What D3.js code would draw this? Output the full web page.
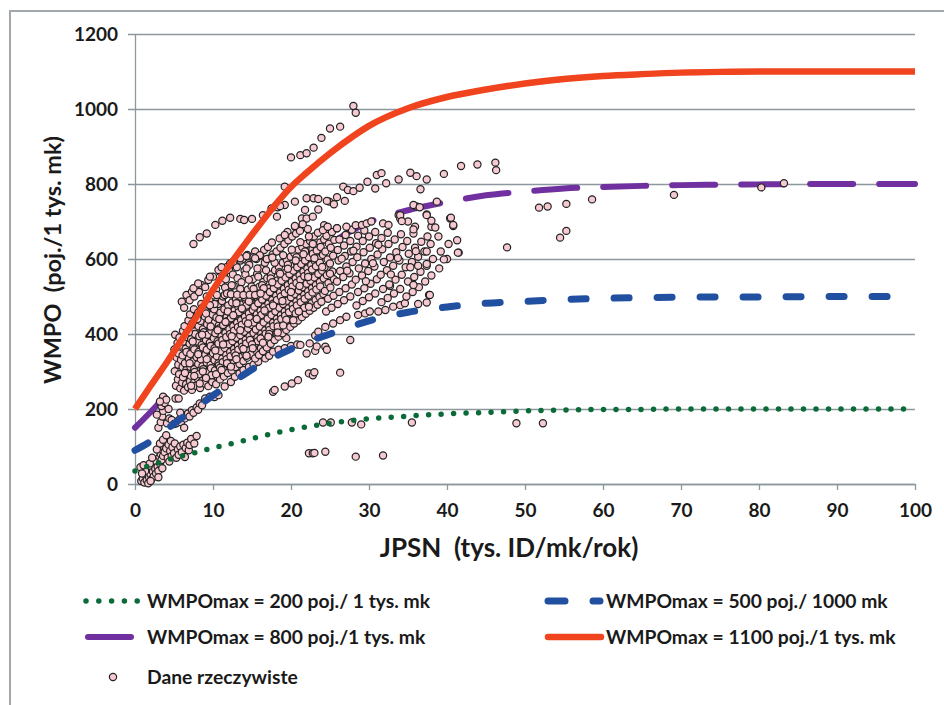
<!DOCTYPE html>
<html>
<head>
<meta charset="utf-8">
<script src="https://cdn.jsdelivr.net/npm/d3@7"></script>
<style>
  body { margin: 0; background: #fff; }
  svg { display: block; font-family: Lato, "Open Sans", sans-serif; font-weight: 700; }
</style>
</head>
<body>
<div id="chart"></div>
<script>
// model curves
var curveX = [0, 2, 4, 6, 8, 10, 12, 14, 16, 18, 20, 22, 25, 28, 30, 35, 40, 45, 50, 55, 60, 65, 70, 75, 80, 90, 100];
var green200 = [35, 50, 63, 75, 85, 96, 106, 116, 126, 136, 145, 152, 162, 170, 174, 181, 187, 191, 195, 197, 199, 199, 200, 200, 200, 200, 200];
var blue500 = [90, 114, 145, 176, 206, 236, 265, 292, 318, 340, 360, 378, 400, 422, 435, 458, 472, 482, 487, 492, 495, 497, 498, 499, 499, 500, 500];
var purple800 = [150, 192, 238, 288, 340, 385, 430, 472, 508, 540, 568, 595, 640, 678, 698, 730, 752, 770, 780, 788, 792, 795, 797, 798, 799, 800, 800];
var red1100 = [200, 262, 322, 385, 450, 518, 580, 637, 692, 745, 792, 830, 882, 928, 955, 1002, 1032, 1052, 1068, 1080, 1088, 1093, 1097, 1099, 1100, 1100, 1100];

var xTicks = [0, 10, 20, 30, 40, 50, 60, 70, 80, 90, 100];
var yTicks = [0, 200, 400, 600, 800, 1000, 1200];

var legendLabels = [
  "WMPOmax = 200 poj./ 1 tys. mk",
  "WMPOmax = 500 poj./ 1000 mk",
  "WMPOmax = 800 poj./1 tys. mk",
  "WMPOmax = 1100 poj./1 tys. mk",
  "Dane rzeczywiste"
];

// observed points [JPSN, WMPO]
var nearOrigin = [
  [0.8,8],[1.0,15],[1.2,4],[1.4,22],[1.5,10],[1.6,30],[1.7,2],[1.8,18],[1.9,38],[2.0,26],[2.1,12],[2.2,45],
  [2.3,33],[2.4,20],[2.5,52],[2.6,40],[2.7,28],[2.8,60],[2.9,47],[3.0,35],[3.1,70],[3.2,55],[3.3,80],[3.4,64],
  [3.5,92],[3.6,75],[3.7,100],[3.8,85],[3.9,112],[4.0,95],[4.1,120],[4.2,70],[4.3,105],[4.4,60],[4.5,88],
  [4.6,115],[4.7,75],[4.8,98],[5.0,82],[5.1,108],[5.3,70],[5.5,92],[5.6,78],[5.8,100],[6.0,85],[6.2,105],
  [6.4,72],[6.5,96],[6.7,110],[6.9,90],[7.0,104],[7.2,120],[7.6,108],[7.9,128],[1.3,35],[0.7,45],[1.1,50],
  [2.0,8],[2.4,62],[1.9,55],[3.0,18],[3.5,42],[2.2,70],[2.8,92],[3.2,108],[3.6,118],[4.0,130],[0.9,28]
];
var lowBand = [
  [3.0,150],[3.3,165],[3.5,180],[3.6,195],[3.4,208],[3.8,216],[3.6,233],[4.0,225],[4.1,162],[4.4,175],
  [4.7,171],[5.0,160],[5.3,162],[5.6,170],[5.9,165],[6.2,178],[6.4,175],[6.6,185],[6.8,188],[7.0,180],
  [7.3,197],[7.5,190],[7.9,204],[8.1,198],[8.3,215],[8.6,210],[4.3,200],[3.2,220],[5.2,228],[2.8,185],
  [9.0,228],[9.6,233],[10.2,232],[10.7,237],[6.3,150],[5.8,190],[5.6,228]
];
var blueBand = [
  [11.5,260],[12.3,272],[12.8,286],[13.4,295],[13.9,304],[14.6,312],[15.2,318],[15.8,326],[16.7,335],
  [17.2,342],[17.7,353],[18.4,358],[19.2,362],[20.0,368],[20.8,372],[21.2,371],[22.0,348],[22.4,375],
  [23.1,355],[23.1,396],[23.5,406],[24.4,366],[24.4,419],[25.4,428],[26.3,437],[27.1,446],[27.6,384],
  [28.6,451],[29.5,455],[30.1,460],[31.2,460],[32.1,464],[33.1,473],[34.0,477],[34.6,482],[36.3,480],
  [37.4,484],[37.7,504],[32.7,528],[35.7,531],[26.3,297],[22.3,295],[22.8,290],[23.0,298],
  [17.7,246],[17.9,251],[19.2,260],[20.1,268],[20.9,277],[23.3,367],[24.6,358],[16.9,411],[19.4,389]
];
var mainCluster = [
  [5.25,262],[5.5,279],[5.1,301],[5.55,318],[5.35,337],[5.05,359],[5.45,376],[5.15,398],
  [5.8,255],[6.05,270],[5.65,293],[6.1,312],[5.9,331],[5.6,348],[6.0,369],[5.7,391],[6.15,408],
  [6.3,249],[6.55,266],[6.15,285],[6.6,305],[6.4,322],[6.1,343],[6.5,361],[6.2,380],[6.65,403],[6.35,421],
  [6.8,258],[7.05,274],[6.65,296],[7.1,313],[6.9,334],[6.6,352],[7.0,374],[6.7,392],[7.15,415],[6.85,436],
  [7.3,251],[7.55,270],[7.15,289],[7.6,306],[7.4,327],[7.1,347],[7.5,365],[7.2,386],[7.65,407],[7.35,428],[7.05,452],
  [7.8,262],[8.05,281],[7.65,299],[8.1,320],[7.9,338],[7.6,359],[8.0,380],[7.7,400],[8.15,421],[7.85,444],[7.55,466],
  [8.35,256],[8.6,275],[8.2,293],[8.65,314],[8.45,333],[8.15,352],[8.55,371],[8.25,394],[8.7,413],[8.4,435],[8.1,457],[8.5,480],
  [8.9,268],[9.15,287],[8.75,306],[9.2,324],[9.0,345],[8.7,364],[9.1,384],[8.8,405],[9.25,426],[8.95,447],[8.65,470],
  [9.4,261],[9.65,280],[9.25,298],[9.7,318],[9.5,337],[9.2,358],[9.6,377],[9.3,398],[9.75,417],[9.45,438],[9.15,461],[9.55,489],
  [9.9,272],[10.15,290],[9.75,309],[10.2,330],[10.0,349],[9.7,368],[10.1,389],[9.8,409],[10.25,431],[9.95,452],[9.65,474],
  [10.4,266],[10.65,284],[10.25,303],[10.7,322],[10.5,341],[10.2,362],[10.6,381],[10.3,402],[10.75,423],[10.45,444],[10.15,466],[10.55,490],[10.4,519],
  [10.9,279],[11.15,297],[10.75,316],[11.2,335],[11.0,354],[10.7,375],[11.1,394],[10.8,415],[11.25,436],[10.95,457],[10.65,480],[11.05,538],
  [11.4,287],[11.65,305],[11.25,325],[11.7,344],[11.5,363],[11.2,384],[11.6,403],[11.3,424],[11.75,445],[11.45,466],[11.15,488],[11.55,524],[11.4,556],
  [11.9,296],[12.15,314],[11.75,333],[12.2,352],[12.0,373],[11.7,392],[12.1,413],[11.8,434],[12.25,455],[11.95,476],[11.65,546],[12.05,571],
  [12.4,303],[12.65,322],[12.25,341],[12.7,360],[12.5,381],[12.2,400],[12.6,421],[12.3,442],[12.75,463],[12.45,484],[12.15,511],[12.55,559],[12.4,586],
  [12.9,312],[13.15,331],[12.75,350],[13.2,369],[13.0,390],[12.7,409],[13.1,430],[12.8,451],[13.25,472],[12.95,493],[12.65,529],[13.05,578],
  [13.4,320],[13.65,339],[13.25,358],[13.7,378],[13.5,397],[13.2,418],[13.6,437],[13.3,458],[13.75,479],[13.45,500],[13.15,549],[13.55,596],
  [13.9,328],[14.15,347],[13.75,366],[14.2,385],[14.0,406],[13.7,425],[14.1,446],[13.8,467],[14.25,488],[13.95,509],[13.65,538],[14.05,569],[13.9,601],
  [14.4,337],[14.65,356],[14.25,375],[14.7,394],[14.5,415],[14.2,434],[14.6,455],[14.3,476],[14.75,497],[14.45,518],[14.15,559],[14.55,589],[14.4,611],
  [14.9,346],[15.15,365],[14.75,384],[15.2,403],[15.0,424],[14.7,443],[15.1,464],[14.8,485],[15.25,506],[14.95,527],[14.65,584],
  [15.4,335],[15.65,353],[15.25,372],[15.7,391],[15.5,412],[15.2,431],[15.6,452],[15.3,473],[15.75,494],[15.45,515],[15.15,547],[15.55,600],[15.4,620],
  [15.9,344],[16.15,362],[15.75,381],[16.2,401],[16.0,420],[15.7,441],[16.1,462],[15.8,482],[16.25,503],[15.95,526],[15.65,560],[16.05,609],
  [16.4,354],[16.65,372],[16.25,391],[16.7,410],[16.5,431],[16.2,451],[16.6,472],[16.3,492],[16.75,513],[16.45,539],[16.15,575],[16.55,624],
  [16.9,364],[17.15,382],[16.75,401],[17.2,420],[17.0,441],[16.7,460],[17.1,481],[16.8,502],[17.25,523],[16.95,549],[16.65,590],[17.05,632],
  [17.4,374],[17.65,392],[17.25,411],[17.7,430],[17.5,451],[17.2,470],[17.6,491],[17.3,512],[17.75,533],[17.45,559],[17.15,601],[17.55,644],
  [17.9,384],[18.15,402],[17.75,421],[18.2,441],[18.0,460],[17.7,481],[18.1,502],[17.8,522],[18.25,543],[17.95,570],[17.65,612],
  [18.4,393],[18.65,412],[18.25,431],[18.7,450],[18.5,470],[18.2,491],[18.6,511],[18.3,532],[18.75,553],[18.45,579],[18.15,620],[18.55,655],
  [18.9,402],[19.15,421],[18.75,440],[19.2,460],[19.0,480],[18.7,500],[19.1,521],[18.8,542],[19.25,563],[18.95,590],[18.65,630],
  [19.4,411],[19.65,430],[19.25,449],[19.7,469],[19.5,489],[19.2,509],[19.6,530],[19.3,551],[19.75,572],[19.45,598],[19.15,640],[19.55,672],
  [19.9,419],[20.15,438],[19.75,458],[20.2,478],[20.0,498],[19.7,518],[20.1,539],[19.8,560],[20.25,581],[19.95,606],[19.65,650],
  [20.4,428],[20.65,447],[20.25,467],[20.7,487],[20.5,507],[20.2,527],[20.6,548],[20.3,569],[20.75,590],[20.45,615],[20.15,660],[20.55,685],
  [20.9,436],[21.15,456],[20.75,476],[21.2,496],[21.0,516],[20.7,536],[21.1,557],[20.8,578],[21.25,599],[20.95,625],[20.65,668],
  [21.4,445],[21.65,465],[21.25,485],[21.7,505],[21.5,525],[21.2,545],[21.6,566],[21.3,587],[21.75,608],[21.45,632],[21.15,675],
  [21.9,454],[22.15,474],[21.75,494],[22.2,514],[22.0,534],[21.7,554],[22.1,575],[21.8,596],[22.25,617],[21.95,640],
  [22.4,462],[22.65,482],[22.25,502],[22.7,522],[22.5,542],[22.2,563],[22.6,584],[22.3,605],[22.75,626],[22.45,648],[22.15,680],
  [22.9,470],[23.15,491],[22.75,511],[23.2,531],[23.0,551],[22.7,572],[23.1,593],[22.8,614],[23.25,635],[22.95,660],
  [23.4,478],[23.65,499],[23.25,519],[23.7,539],[23.5,560],[23.2,581],[23.6,602],[23.3,623],[23.75,644],[23.45,670],
  [23.9,486],[24.15,507],[23.75,527],[24.2,548],[24.0,569],[23.7,590],[24.1,611],[23.8,632],[24.25,652],
  [24.5,460],[24.75,494],[24.35,515],[24.8,536],[24.6,557],[24.3,578],[24.7,599],[24.4,620],[24.85,641],[24.55,662],[24.25,690],
  [25.2,470],[25.45,502],[25.05,524],[25.5,546],[25.3,567],[25.0,588],[25.4,609],[25.1,630],[25.55,651],[25.25,672],
  [26.0,480],[26.2,512],[25.9,540],[26.3,568],[26.1,596],[26.0,624],[26.2,652],[25.9,682],
  [26.8,490],[27.0,522],[26.7,552],[27.1,580],[26.9,608],[26.8,636],[27.0,664],
  [27.6,500],[27.8,532],[27.5,562],[27.9,592],[27.7,620],[27.6,648],[27.8,678],
  [28.4,476],[28.6,512],[28.3,545],[28.7,575],[28.5,605],[28.4,633],[28.6,662],[28.3,690],
  [29.2,488],[29.4,522],[29.1,556],[29.5,588],[29.3,618],[29.2,648],[29.4,676],
  [30.0,498],[30.2,534],[29.9,568],[30.3,600],[30.1,630],[30.0,660],
  [30.8,508],[31.0,546],[30.7,580],[31.1,612],[30.9,642],[30.8,672],
  [31.6,485],[31.8,520],[31.5,558],[31.9,592],[31.7,626],[31.6,656],
  [32.4,496],[32.6,532],[32.3,570],[32.7,604],[32.5,640],[32.4,670],
  [33.2,508],[33.4,545],[33.1,582],[33.5,618],[33.3,652],
  [34.0,520],[34.2,558],[33.9,596],[34.3,632],[34.1,666],
  [34.8,500],[35.0,540],[34.7,578],[35.1,614],[34.9,648],
  [35.6,512],[35.8,552],[35.5,592],[35.9,630],[35.7,668],
  [36.4,525],[36.6,566],[36.3,606],[36.7,646],
  [37.2,540],[37.4,582],[37.1,620],[37.5,660],
  [38.0,556],[38.2,600],[37.9,640],
  [39.0,575],[39.2,620],[38.9,660],
  [40.0,600],[40.2,640],
  [41.5,617],[41.3,650]
];
// extra points scattered through the dense core
var clusterFill = [
  [6.4,296],[7.0,322],[7.6,288],[8.1,346],[8.7,300],[9.2,333],[9.8,290],[10.3,356],[10.9,310],[11.3,372],
  [11.8,322],[12.4,394],[12.9,343],[13.5,410],[13.9,360],[14.5,428],[15.0,372],[15.6,440],[16.1,388],[16.6,463],
  [17.2,400],[17.7,476],[18.3,420],[18.9,488],[19.4,438],[20.0,512],[20.6,455],[21.1,528],[21.7,470],[22.2,552],
  [6.9,405],[7.4,380],[8.0,440],[8.6,398],[9.1,455],[9.7,420],[10.2,480],[10.8,440],[11.3,500],[11.9,460],
  [12.4,530],[13.0,482],[13.5,520],[14.1,498],[14.6,545],[15.2,520],[15.7,575],[16.3,530],[16.8,570],[17.4,548],
  [17.9,590],[18.5,565],[19.0,610],[19.6,585],[20.1,625],[20.7,605],[21.2,645],[21.8,620],[22.3,660],[22.8,640],
  [7.2,262],[8.3,268],[9.1,283],[10.4,293],[11.1,304],[12.3,313],[13.0,333],[14.3,342],[15.1,362],[16.4,377],
  [17.1,393],[18.3,404],[19.0,423],[20.3,437],[21.0,460],[22.3,473],
  [10.6,410],[11.6,432],[12.6,450],[13.7,468],[14.6,487],[15.6,503],[16.5,522],[17.6,538],[18.6,561],[19.6,574],
  [20.6,596],[21.6,613],[23.0,602],[24.0,579],[25.0,561],[26.5,601],[27.2,569],[28.0,622],[29.6,541],[30.5,589],
  [31.2,638],[32.8,559],[33.7,603],[35.3,578],[36.0,621]
];
var upperArcs = [
  [6.0,486],[6.6,504],[7.3,513],[7.9,522],[8.5,531],[9.4,544],[10.0,553],[10.9,566],[11.8,579],[12.6,593],
  [13.5,602],[14.3,608],[15.2,605],[16.0,610],[16.9,600],[17.6,604],[6.3,470],[7.0,490],[7.6,500],[8.2,512],[9.0,525],
  [7.5,522],[8.1,535],[9.6,553],[10.7,571],[11.1,578],[12.2,588],[14.3,575],[15.4,602],[15.8,553],[9.6,477],
  [9.2,500],[10.5,504],[11.5,504],[11.8,508],[12.3,506],[13.1,505],[13.9,504],[14.7,505],[15.4,504],[16.1,508],
  [7.5,640],[8.3,658],[9.2,668],[10.3,691],[11.2,702],[12.2,710],[13.5,707],[14.0,704],[15.0,707],[16.4,717],
  [17.5,735],[18.2,713],[18.3,738],[19.2,744],[19.2,793],[20.5,753],[22.0,762],[22.9,762],[23.5,760],[24.9,753],
  [25.9,765],[26.9,755],[25.5,746],[26.7,793],[27.3,784],[28.0,781],[28.8,790],[29.8,806],[30.8,788],[31.0,824],
  [31.6,829],[32.2,802],[33.8,812],[35.3,830],[36.1,821],[37.4,812],[36.6,786],[39.6,827],[41.8,848],[43.9,852],
  [46.2,857],[46.3,837],[20.0,871],[21.2,877],[22.0,882],[22.9,897],[23.9,923],[25.0,948],[26.3,953],[28.0,1008],
  [28.3,990],[19.2,664],[18.6,741],[21.8,731],[21.4,708],[22.0,708],[22.8,713],[23.5,732],[24.6,755],[20.5,688],
  [21.5,693],[24.1,677],[24.7,686],[25.9,682],[27.1,686],[29.1,691],[29.7,695],[30.3,700],[31.8,695],[32.5,691],
  [33.8,717],[34.0,708],[35.0,700],[35.9,686],[36.1,740],[37.4,719],[38.0,686],[38.7,753],[40.4,708],[40.8,688],
  [35.7,744],[36.5,738],[37.4,717],[38.0,702],[38.5,684],[40.5,710],[40.8,691],[34.0,717],[34.2,701],[35.7,679],
  [37.4,620],[41.4,617],[39.6,599],[37.4,587],[36.3,582],[35.7,531],[37.8,504]
];
var outliers = [
  [47.7,631],[51.8,737],[52.9,740],[55.3,747],[58.6,759],[54.5,657],[55.3,675],[69.1,771],[80.3,791],[83.2,802],
  [48.9,162],[52.3,162],[35.5,164],[29.0,159],[27.8,164],[25.1,164],[24.1,164],
  [22.3,82],[22.8,82],[23.0,83],[24.4,86],[28.3,73],[31.8,76]
];

var W = 944, H = 705;
var svg = d3.select("#chart").append("svg")
    .attr("width", W)
    .attr("height", H);

var x = d3.scaleLinear().domain([0, 100]).range([135, 915]);
var y = d3.scaleLinear().domain([0, 1200]).range([484, 34]);
var gridColor = "#8d979d";
var textColor = "#1a1a1a";

// outer frame (only top and left show)
svg.append("path")
    .attr("d", "M10,705 V11 H944")
    .attr("fill", "none")
    .attr("stroke", "#a3a8ad")
    .attr("stroke-width", 2);

// gridlines + y axis
var yAxis = d3.axisLeft(y).tickValues(yTicks).tickFormat(d3.format("d"))
    .tickSize(-(915 - 135)).tickSizeOuter(0);
var gy = svg.append("g").attr("transform", "translate(135,0)").call(yAxis);
gy.select(".domain").attr("stroke", gridColor).attr("stroke-width", 1.3);
gy.selectAll(".tick line").attr("stroke", gridColor).attr("stroke-width", 1.3).attr("x1", -7);
gy.selectAll(".tick text").attr("font-size", 19).attr("font-weight", 700).attr("fill", textColor)
    .attr("font-family", "Lato, sans-serif").attr("x", -17);

var xAxis = d3.axisBottom(x).tickValues(xTicks).tickSize(6).tickSizeOuter(0).tickPadding(14);
var gx = svg.append("g").attr("transform", "translate(0,484)").call(xAxis);
gx.select(".domain").attr("stroke", gridColor).attr("stroke-width", 1.3);
gx.selectAll(".tick line").attr("stroke", gridColor).attr("stroke-width", 1.3);
gx.selectAll(".tick text").attr("font-size", 19).attr("font-weight", 700).attr("fill", textColor)
    .attr("font-family", "Lato, sans-serif");

// axis titles
svg.append("text")
    .attr("transform", "translate(61,260) rotate(-90)")
    .attr("text-anchor", "middle")
    .attr("font-size", 23.5)
    .attr("fill", textColor)
    .attr("xml:space", "preserve")
    .text("WMPO  (poj./1 tys. mk)");

svg.append("text")
    .attr("x", 509)
    .attr("y", 557)
    .attr("text-anchor", "middle")
    .attr("font-size", 26)
    .attr("fill", textColor)
    .attr("xml:space", "preserve")
    .text("JPSN  (tys. ID/mk/rok)");

function curveLine(vals) {
    return d3.line()
        .x(function(d, i) { return x(curveX[i]); })
        .y(function(d) { return y(d); })
        .curve(d3.curveMonotoneX)(vals);
}

// purple sits below the observed points
svg.append("path")
    .attr("d", curveLine(purple800))
    .attr("fill", "none")
    .attr("stroke", "#7030a0")
    .attr("stroke-width", 6)
    .attr("stroke-linecap", "round")
    .attr("stroke-dasharray", "43 26");

var observed = nearOrigin.concat(lowBand, blueBand, mainCluster, clusterFill, upperArcs, outliers);
svg.append("g").selectAll("circle")
    .data(observed)
    .enter()
    .append("circle")
    .attr("cx", function(d) { return x(d[0]); })
    .attr("cy", function(d) { return y(d[1]); })
    .attr("r", 3.6)
    .attr("fill", "#f7c9d1")
    .attr("stroke", "#222")
    .attr("stroke-width", 1.2);

svg.append("path")
    .attr("d", curveLine(green200))
    .attr("fill", "none")
    .attr("stroke", "#0b6b38")
    .attr("stroke-width", 5.5)
    .attr("stroke-linecap", "round")
    .attr("stroke-dasharray", "0 12.5");

svg.append("path")
    .attr("d", curveLine(blue500))
    .attr("fill", "none")
    .attr("stroke", "#2150a0")
    .attr("stroke-width", 7)
    .attr("stroke-linecap", "round")
    .attr("stroke-dasharray", "15 28");

svg.append("path")
    .attr("d", curveLine(red1100))
    .attr("fill", "none")
    .attr("stroke", "#f0441f")
    .attr("stroke-width", 6.5);

// legend
var lg = svg.append("g").attr("font-size", 19.3).attr("fill", textColor);
var rows = [
  {tx: 147, cy: 601, label: legendLabels[0]},
  {tx: 606, cy: 601, label: legendLabels[1]},
  {tx: 147, cy: 637, label: legendLabels[2]},
  {tx: 606, cy: 637, label: legendLabels[3]},
  {tx: 147, cy: 677, label: legendLabels[4]}
];
lg.selectAll("text")
    .data(rows)
    .enter()
    .append("text")
    .attr("x", function(d) { return d.tx; })
    .attr("y", function(d) { return d.cy; })
    .attr("dy", "0.35em")
    .text(function(d) { return d.label; });

lg.append("path").attr("d", "M86,601 H138")
    .attr("stroke", "#0b6b38").attr("stroke-width", 5.5)
    .attr("stroke-linecap", "round").attr("stroke-dasharray", "0 12.8");
lg.append("path").attr("d", "M548,601 H565 M593,601 H600")
    .attr("stroke", "#2150a0").attr("stroke-width", 7).attr("stroke-linecap", "round");
lg.append("path").attr("d", "M88,637 H131")
    .attr("stroke", "#7030a0").attr("stroke-width", 6).attr("stroke-linecap", "round");
lg.append("path").attr("d", "M548,637 H601")
    .attr("stroke", "#f0441f").attr("stroke-width", 6.5).attr("stroke-linecap", "round");
lg.append("circle").attr("cx", 113).attr("cy", 677).attr("r", 3.6)
    .attr("fill", "#f7c9d1").attr("stroke", "#222").attr("stroke-width", 1.2);
</script>
</body>
</html>
